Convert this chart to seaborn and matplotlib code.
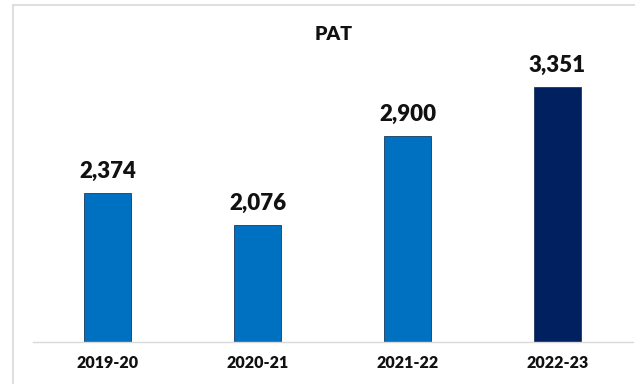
import matplotlib
matplotlib.use("Agg")
import matplotlib.pyplot as plt
import seaborn as sns
import pandas as pd
from matplotlib.lines import Line2D

years = ["2019-20", "2020-21", "2021-22", "2022-23"]
pat = [2374, 2076, 2900, 3351]
bar_colors = ["#0070C0", "#0070C0", "#0070C0", "#002060"]

df = pd.DataFrame({"year": years, "pat": pat})

sns.set_theme(style="white")
plt.rcParams["font.family"] = ["Lato", "DejaVu Sans"]

fig = plt.figure(figsize=(6.35, 3.84), dpi=100)
ax = fig.add_axes([32.5 / 635, 1 - 342 / 384, 600 / 635, (342 - 16.5) / 384])

sns.barplot(data=df, x="year", y="pat", hue="year", palette=bar_colors,
            width=0.31, edgecolor="#1a3a5c", linewidth=0.6, legend=False,
            ax=ax, saturation=1)

ax.set_ylim(1000, 4000)
ax.set_xlim(-0.5, 3.5)
ax.set_xlabel("")
ax.set_ylabel("")
ax.set_yticks([])
for s in ["left", "right", "top"]:
    ax.spines[s].set_visible(False)
ax.spines["bottom"].set_color("#d9d9d9")
ax.spines["bottom"].set_linewidth(1.0)
ax.tick_params(axis="x", length=0, pad=9)
for lbl in ax.get_xticklabels():
    lbl.set_fontweight("heavy")
    lbl.set_fontsize(11.5)
    lbl.set_color("#111111")

for i, v in enumerate(pat):
    ax.annotate(f"{v:,}", (i, v), xytext=(0, 8), textcoords="offset points",
                ha="center", va="bottom", fontsize=16, fontweight="heavy",
                color="#111111")

fig.text(334 / 635, 1 - 35 / 384, "PAT", ha="center", va="center",
         fontsize=14, fontweight="heavy", color="#111111")

# outer frame lines
fig.add_artist(Line2D([13 / 635, 13 / 635], [0, 1 - 5 / 384],
                      transform=fig.transFigure, color="#d9d9d9", lw=1.2))
fig.add_artist(Line2D([13 / 635, 1], [1 - 5 / 384, 1 - 5 / 384],
                      transform=fig.transFigure, color="#d9d9d9", lw=1.2))

fig.savefig("out.png", dpi=100)
